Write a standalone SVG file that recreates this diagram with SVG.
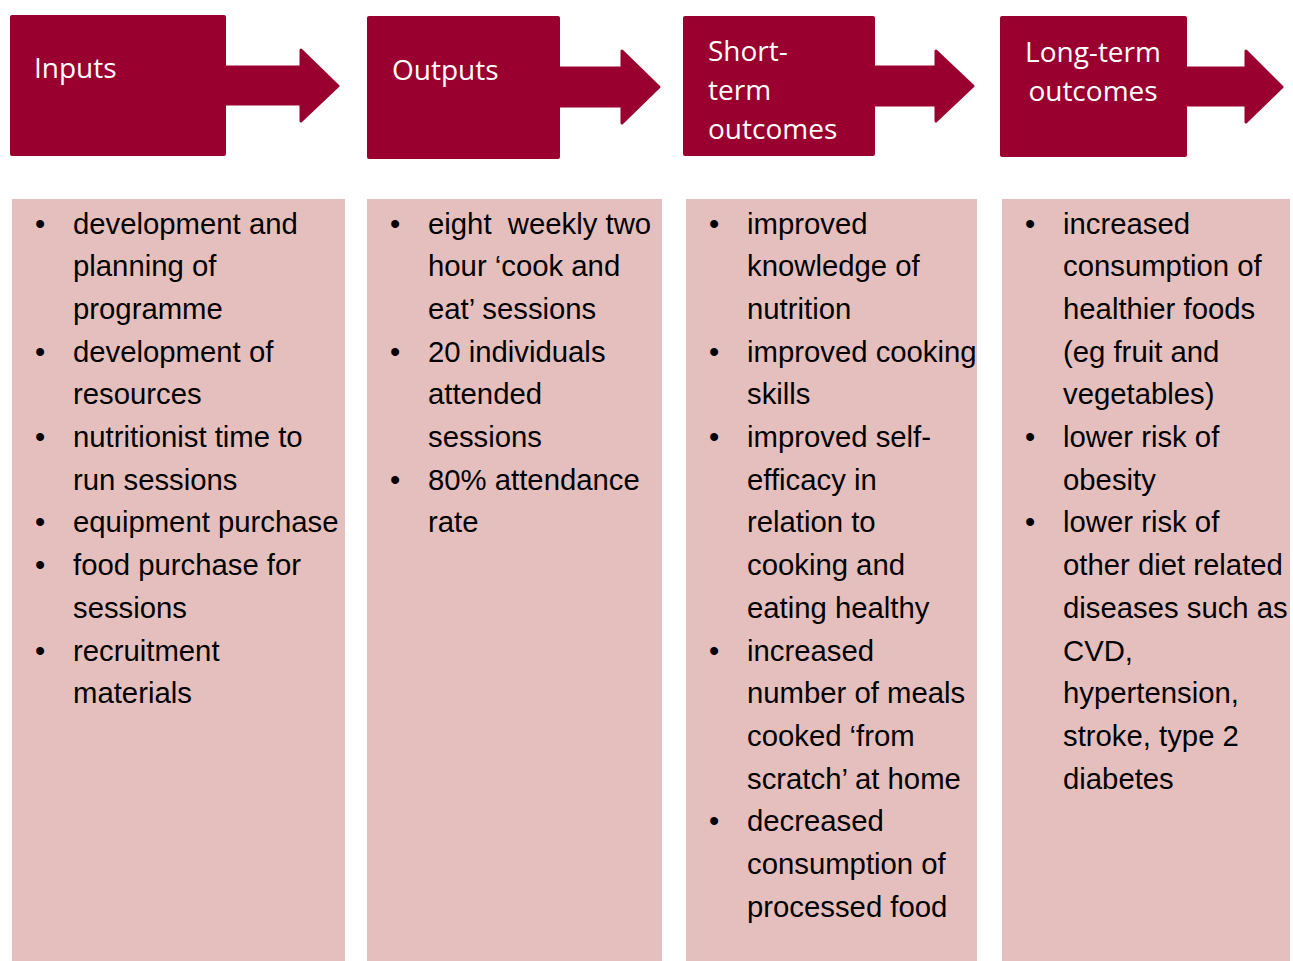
<svg xmlns="http://www.w3.org/2000/svg" width="1293" height="961" viewBox="0 0 1293 961">
<style>
.hdr{fill:#99002F}
.arr{fill:#99002F;stroke:#99002F;stroke-width:3;stroke-linejoin:round}
.panel{fill:#E5BFBD}
.ht{font-family:"Open Sans","Noto Sans",sans-serif;font-size:28px;fill:#FFFFFF}
.bt{font-family:"Liberation Sans",Arial,sans-serif;font-size:29.3px;fill:#000000;white-space:pre}
</style>
<rect width="1293" height="961" fill="#FFFFFF"/>
<g id="connectors">
<path class="arr" d="M224,67 L301,67 L301,50 L338,86 L301,121 L301,104 L224,104 Z"/>
<path class="arr" d="M558,68 L622,68 L622,51 L659,87 L622,123 L622,106 L558,106 Z"/>
<path class="arr" d="M873,67 L936,67 L936,51 L973,86 L936,121 L936,105 L873,105 Z"/>
<path class="arr" d="M1185,68 L1246,68 L1246,51 L1282,87 L1246,122 L1246,105 L1185,105 Z"/>
</g>
<g id="inputs">
<rect class="hdr" x="10" y="15" width="216" height="141" rx="2"/>
<text class="ht" x="34" y="78">Inputs</text>
</g>
<g id="outputs">
<rect class="hdr" x="367" y="16" width="193" height="143" rx="2"/>
<text class="ht" x="392" y="80">Outputs</text>
</g>
<g id="short-term">
<rect class="hdr" x="683" y="16" width="192" height="140" rx="2"/>
<text class="ht" x="708" y="61">Short-</text>
<text class="ht" x="708" y="100">term</text>
<text class="ht" x="708" y="139">outcomes</text>
</g>
<g id="long-term">
<rect class="hdr" x="1000" y="16" width="187" height="141" rx="2"/>
<text class="ht" x="1093" y="62" text-anchor="middle">Long-term</text>
<text class="ht" x="1093" y="101" text-anchor="middle">outcomes</text>
</g>
<g id="inputs-list">
<rect class="panel" x="12" y="199" width="333" height="762"/>
<text class="bt" x="35" y="233.5">•</text>
<text class="bt" x="73" y="233.5">development and</text>
<text class="bt" x="73" y="276.2">planning of</text>
<text class="bt" x="73" y="318.9">programme</text>
<text class="bt" x="35" y="361.6">•</text>
<text class="bt" x="73" y="361.6">development of</text>
<text class="bt" x="73" y="404.3">resources</text>
<text class="bt" x="35" y="447">•</text>
<text class="bt" x="73" y="447">nutritionist time to</text>
<text class="bt" x="73" y="489.7">run sessions</text>
<text class="bt" x="35" y="532.4">•</text>
<text class="bt" x="73" y="532.4">equipment purchase</text>
<text class="bt" x="35" y="575.1">•</text>
<text class="bt" x="73" y="575.1">food purchase for</text>
<text class="bt" x="73" y="617.8">sessions</text>
<text class="bt" x="35" y="660.5">•</text>
<text class="bt" x="73" y="660.5">recruitment</text>
<text class="bt" x="73" y="703.2">materials</text>
</g>
<g id="outputs-list">
<rect class="panel" x="367" y="199" width="295" height="762"/>
<text class="bt" x="390" y="233.5">•</text>
<text class="bt" x="428" y="233.5">eight  weekly two</text>
<text class="bt" x="428" y="276.2">hour ‘cook and</text>
<text class="bt" x="428" y="318.9">eat’ sessions</text>
<text class="bt" x="390" y="361.6">•</text>
<text class="bt" x="428" y="361.6">20 individuals</text>
<text class="bt" x="428" y="404.3">attended</text>
<text class="bt" x="428" y="447">sessions</text>
<text class="bt" x="390" y="489.7">•</text>
<text class="bt" x="428" y="489.7">80% attendance</text>
<text class="bt" x="428" y="532.4">rate</text>
</g>
<g id="short-term-list">
<rect class="panel" x="686" y="199" width="291" height="762"/>
<text class="bt" x="709" y="233.5">•</text>
<text class="bt" x="747" y="233.5">improved</text>
<text class="bt" x="747" y="276.2">knowledge of</text>
<text class="bt" x="747" y="318.9">nutrition</text>
<text class="bt" x="709" y="361.6">•</text>
<text class="bt" x="747" y="361.6">improved cooking</text>
<text class="bt" x="747" y="404.3">skills</text>
<text class="bt" x="709" y="447">•</text>
<text class="bt" x="747" y="447">improved self-</text>
<text class="bt" x="747" y="489.7">efficacy in</text>
<text class="bt" x="747" y="532.4">relation to</text>
<text class="bt" x="747" y="575.1">cooking and</text>
<text class="bt" x="747" y="617.8">eating healthy</text>
<text class="bt" x="709" y="660.5">•</text>
<text class="bt" x="747" y="660.5">increased</text>
<text class="bt" x="747" y="703.2">number of meals</text>
<text class="bt" x="747" y="745.9">cooked ‘from</text>
<text class="bt" x="747" y="788.6">scratch’ at home</text>
<text class="bt" x="709" y="831.3">•</text>
<text class="bt" x="747" y="831.3">decreased</text>
<text class="bt" x="747" y="874">consumption of</text>
<text class="bt" x="747" y="916.7">processed food</text>
</g>
<g id="long-term-list">
<rect class="panel" x="1002" y="199" width="288" height="762"/>
<text class="bt" x="1025" y="233.5">•</text>
<text class="bt" x="1063" y="233.5">increased</text>
<text class="bt" x="1063" y="276.2">consumption of</text>
<text class="bt" x="1063" y="318.9">healthier foods</text>
<text class="bt" x="1063" y="361.6">(eg fruit and</text>
<text class="bt" x="1063" y="404.3">vegetables)</text>
<text class="bt" x="1025" y="447">•</text>
<text class="bt" x="1063" y="447">lower risk of</text>
<text class="bt" x="1063" y="489.7">obesity</text>
<text class="bt" x="1025" y="532.4">•</text>
<text class="bt" x="1063" y="532.4">lower risk of</text>
<text class="bt" x="1063" y="575.1">other diet related</text>
<text class="bt" x="1063" y="617.8">diseases such as</text>
<text class="bt" x="1063" y="660.5">CVD,</text>
<text class="bt" x="1063" y="703.2">hypertension,</text>
<text class="bt" x="1063" y="745.9">stroke, type 2</text>
<text class="bt" x="1063" y="788.6">diabetes</text>
</g>
</svg>
